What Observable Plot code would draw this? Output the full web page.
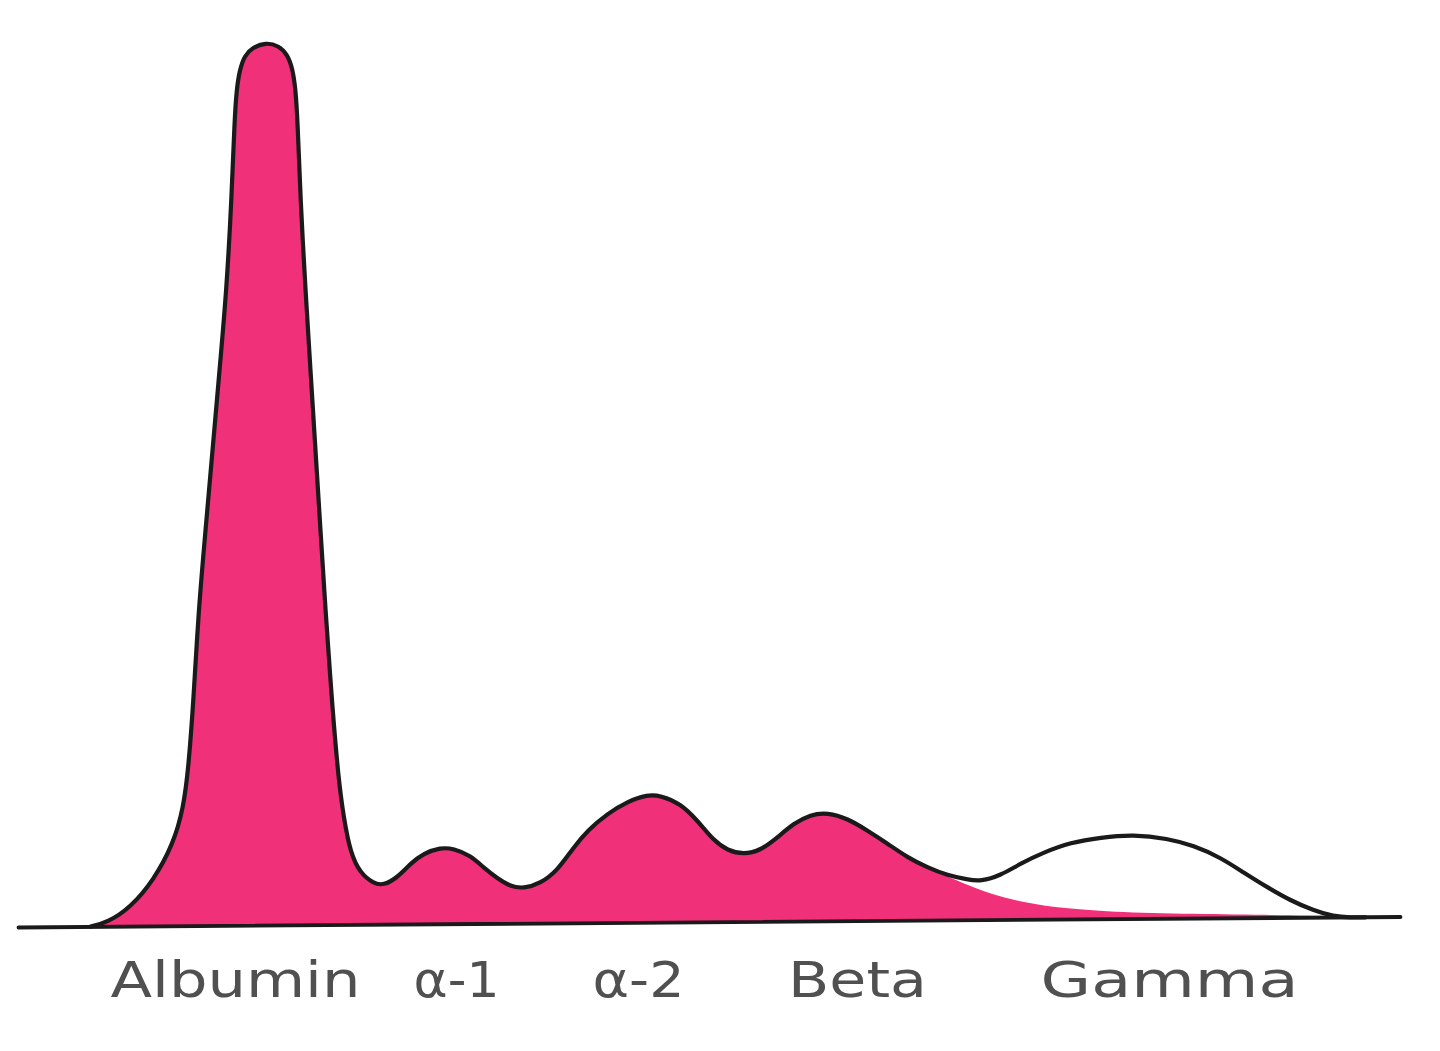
<!DOCTYPE html>
<html>
<head>
<meta charset="utf-8">
<script src="https://cdn.jsdelivr.net/npm/d3@7"></script>
<script src="https://cdn.jsdelivr.net/npm/@observablehq/plot@0.6"></script>
<style>
  html, body { margin: 0; padding: 0; background: #ffffff; }
  #chart { width: 1440px; height: 1051px; overflow: hidden; }
</style>
</head>
<body>
<div id="chart"></div>
<script>
// ---- Data (mobility position, density above baseline) ----
const mobility = [90,107,130,153,173,183,188,193,198,205,212,219,226,231,234,236,239,244,252,265,278,287,292,295,297,300,305,310,315,320,325,330,333,338,343,350,360,373,383,397,410,423,440,453,470,483,497,510,523,540,557,573,587,607,627,647,660,680,697,713,727,743,760,777,793,810,827,847,867,887,907,927,947,967,980,1000,1020,1043,1070,1100,1133,1167,1193,1220,1243,1267,1290,1313,1333,1350,1365];
const density  = [2,6,21,48,85,121,161,228,318,398,478,558,638,728,808,838,858,873,881,886,883,874,860,840,810,728,638,558,478,398,318,248,208,150,112,75,55,45,43,51,65,75,81,80,73,61,50,42,40,45,58,81,98,115,127,134,133,125,108,88,78,74,78,91,105,114,116,110,98,85,71,61,53,49,47,53,65,76,86,91,94,90,83,71,56,41,28,18,12,11,11.2];

// filled (albumin → beta) part ends where the beta tail leaves the outline
const fillEndMobility = 940;
const betaTailX = [960,993,1027,1060,1110,1193,1277,1330];
const betaTailY = [46,33,25,20,16,14,13,11.5];

// baseline (slightly tilted in the original scan)
const baselineX = [18, 1400];
const baselineY = [1, 11.5];

// category labels
const fractions = ["Albumin", "α-1", "α-2", "Beta", "Gamma"];
const fractionX = [235, 456, 638, 857, 1169];

// ---- Build tables ----
const outline = mobility.map((x, i) => ({x, y: density[i]}));
const base = d3.scaleLinear().domain(baselineX).range(baselineY);
const fillPts = outline.filter(d => d.x <= fillEndMobility)
  .concat([{x: fillEndMobility, y: 55}])
  .concat(betaTailX.map((x, i) => ({x, y: betaTailY[i]})))
  .map(d => ({...d, y1: base(d.x)}));
const baseline = baselineX.map((x, i) => ({x, y: baselineY[i]}));
const labels = fractions.map((t, i) => ({t, x: fractionX[i]}));

// layout / style
const PINK = "#f03078";
const INK = "#1a1a1a";
const labelWidths = [250, 86, 92, 139, 258];

const chart = Plot.plot({
  width: 1440,
  height: 1051,
  marginTop: 0, marginRight: 0, marginBottom: 0, marginLeft: 0,
  x: {domain: [0, 1440], range: [0, 1440], axis: null},
  y: {domain: [0, 900], range: [928, 28], axis: null},
  style: {background: "#ffffff", overflow: "visible"},
  marks: [
    Plot.areaY(fillPts, {x: "x", y1: "y1", y2: "y", fill: PINK, curve: "basis"}),
    Plot.line(outline, {x: "x", y: "y", stroke: INK, strokeWidth: 4.2, curve: "basis", strokeLinejoin: "round", strokeLinecap: "round"}),
    Plot.line(baseline, {x: "x", y: "y", stroke: INK, strokeWidth: 3.8, strokeLinecap: "round"}),
    Plot.text(labels, {
      x: "x", y: -68, text: "t",
      lineAnchor: "bottom", textAnchor: "middle",
      fontSize: 49, fontFamily: "DejaVu Sans", fill: "#505050"
    })
  ]
});

// stretch labels to the wide geometric lettering of the original
d3.select(chart).selectAll('g[aria-label="text"] text').each(function(d, i) {
  d3.select(this).attr("textLength", labelWidths[i]).attr("lengthAdjust", "spacingAndGlyphs");
});

document.getElementById("chart").appendChild(chart);
</script>
</body>
</html>
